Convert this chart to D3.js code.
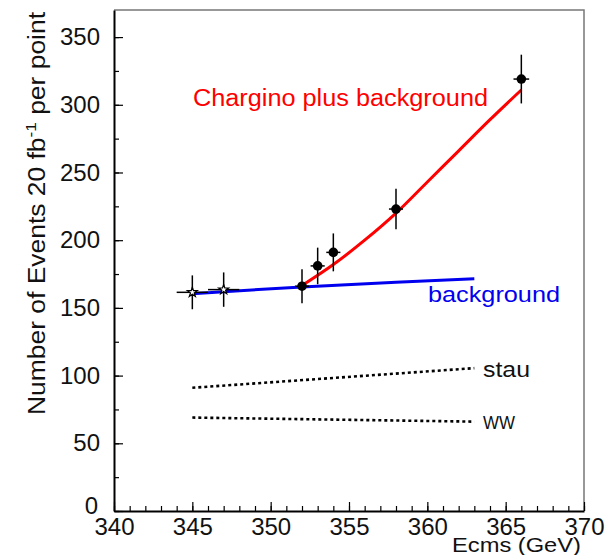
<!DOCTYPE html>
<html>
<head>
<meta charset="utf-8">
<script src="https://cdn.jsdelivr.net/npm/d3@7"></script>
<style>
  html, body { margin: 0; padding: 0; background: #fff; }
  svg { display: block; font-family: "Liberation Sans", Arial, sans-serif; }
</style>
</head>
<body>
<svg id="chart" width="608" height="555"></svg>
<script>
// Measured points: events per 20 fb^-1 at each energy point
const ecmsStar = [345, 347];
const eventsStar = [161.5, 163.5];
const errStar = [12.5, 12.7];
const xerrStar = [1.0, 1.0];

const ecmsDot = [352, 353, 354, 358, 366];
const eventsDot = [166, 181, 191, 223, 319];
const errDot = [12.5, 13.5, 14, 15, 18];
const xerrDot = [0.45, 0.45, 0.45, 0.45, 0.5];

// Expectation curves
const chargX = [352, 354, 356, 358, 360, 362, 364, 366];
const chargY = [166.5, 182, 200, 220, 243, 266, 289, 311];

const bgX = [345, 347, 352, 358, 363];
const bgY = [160.5, 162, 165.5, 169, 171.5];

const stauX = [345, 363];
const stauY = [91, 105.5];

const wwX = [345, 363];
const wwY = [69, 66];

const xTicks = [340, 345, 350, 355, 360, 365, 370];
const yTicks = [0, 50, 100, 150, 200, 250, 300, 350];

const svg = d3.select("#chart");
const mLeft = 114, mRight = 584, mTop = 10, mBottom = 511;

const x = d3.scaleLinear().domain([340, 370]).range([mLeft, mRight]);
const y = d3.scaleLinear().domain([0, 370]).range([mBottom, mTop]);

// frame (top and right)
svg.append("path")
  .attr("d", `M${mLeft},${mTop}H${mRight}V${mBottom}`)
  .attr("fill", "none").attr("stroke", "#777").attr("stroke-width", 1.5);

// minor ticks
svg.append("g").attr("transform", `translate(0,${mBottom})`)
  .call(d3.axisBottom(x).tickValues(d3.range(340, 371, 1)).tickSize(-5).tickSizeOuter(0).tickFormat(""))
  .call(g => g.select(".domain").remove())
  .call(g => g.selectAll("line").attr("stroke", "#000").attr("stroke-width", 1.2));
svg.append("g").attr("transform", `translate(${mLeft},0)`)
  .call(d3.axisLeft(y).tickValues(d3.range(0, 371, 25)).tickSize(-5).tickSizeOuter(0).tickFormat(""))
  .call(g => g.select(".domain").remove())
  .call(g => g.selectAll("line").attr("stroke", "#000").attr("stroke-width", 1.2));

// major axes
const xAxis = svg.append("g").attr("transform", `translate(0,${mBottom})`)
  .call(d3.axisBottom(x).tickValues(xTicks).tickSize(-9).tickSizeOuter(0).tickPadding(7).tickFormat(d3.format("d")));
const yAxis = svg.append("g").attr("transform", `translate(${mLeft},0)`)
  .call(d3.axisLeft(y).tickValues(yTicks).tickSize(-9).tickSizeOuter(0).tickPadding(14).tickFormat(d3.format("d")));
[xAxis, yAxis].forEach(g => {
  g.select(".domain").attr("stroke", "#000").attr("stroke-width", 2);
  g.selectAll("line").attr("stroke", "#000").attr("stroke-width", 1.2);
  g.selectAll("text").attr("font-size", 24).attr("fill", "#111")
    .attr("font-family", "Liberation Sans, Arial, sans-serif");
});
// the zero label sits slightly up-left of the corner
yAxis.selectAll(".tick").filter(d => d === 0).select("text").attr("dy", "0.1em").attr("x", -16);

// axis titles
svg.append("text")
  .attr("x", 581).attr("y", 552).attr("text-anchor", "end")
  .attr("font-size", 20).attr("fill", "#111")
  .attr("textLength", 129).attr("lengthAdjust", "spacingAndGlyphs")
  .text("Ecms (GeV)");

const yTitle = svg.append("text")
  .attr("transform", "translate(45,415) rotate(-90)")
  .attr("font-size", 23).attr("fill", "#111");
yTitle.append("tspan").text("Number of Events  20 fb");
yTitle.append("tspan").attr("dy", -9).attr("font-size", 15).text("-1");
yTitle.append("tspan").attr("dy", 9).text(" per point");
yTitle.attr("textLength", 403).attr("lengthAdjust", "spacingAndGlyphs");

// curves
const line = d3.line().x(d => x(d[0])).y(d => y(d[1]));
const smooth = d3.line().x(d => x(d[0])).y(d => y(d[1])).curve(d3.curveMonotoneX);

svg.append("path").datum(d3.zip(stauX, stauY)).attr("d", line)
  .attr("fill", "none").attr("stroke", "#000").attr("stroke-width", 2.6).attr("stroke-dasharray", "3,3");
svg.append("path").datum(d3.zip(wwX, wwY)).attr("d", line)
  .attr("fill", "none").attr("stroke", "#000").attr("stroke-width", 2.6).attr("stroke-dasharray", "3,3");

svg.append("path").datum(d3.zip(bgX, bgY)).attr("d", smooth)
  .attr("fill", "none").attr("stroke", "#0000ee").attr("stroke-width", 3);
svg.append("path").datum(d3.zip(chargX, chargY)).attr("d", smooth)
  .attr("fill", "none").attr("stroke", "#ff0000").attr("stroke-width", 3);

// error bars
function errBars(xs, ys, es, xes) {
  const g = svg.append("g").attr("stroke", "#000").attr("stroke-width", 1.5);
  xs.forEach((v, i) => {
    g.append("line").attr("x1", x(v)).attr("x2", x(v))
      .attr("y1", y(ys[i] - es[i])).attr("y2", y(ys[i] + es[i]));
    g.append("line").attr("x1", x(v - xes[i])).attr("x2", x(v + xes[i]))
      .attr("y1", y(ys[i])).attr("y2", y(ys[i]));
  });
}
errBars(ecmsStar, eventsStar, errStar, xerrStar);
errBars(ecmsDot, eventsDot, errDot, xerrDot);

// markers
svg.append("g").selectAll("path").data(d3.zip(ecmsStar, eventsStar)).join("path")
  .attr("d", d3.symbol(d3.symbolStar, 30))
  .attr("transform", d => `translate(${x(d[0])},${y(d[1])})`)
  .attr("fill", "#fff").attr("stroke", "#000").attr("stroke-width", 1.2);
svg.append("g").selectAll("circle").data(d3.zip(ecmsDot, eventsDot)).join("circle")
  .attr("cx", d => x(d[0])).attr("cy", d => y(d[1])).attr("r", 4.8)
  .attr("fill", "#000");

// curve labels
svg.append("text").attr("x", 193).attr("y", 106)
  .attr("font-size", 23).attr("fill", "#ff0000")
  .attr("textLength", 295).attr("lengthAdjust", "spacingAndGlyphs")
  .text("Chargino plus background");
svg.append("text").attr("x", 428).attr("y", 302)
  .attr("font-size", 22).attr("fill", "#0000ee")
  .attr("textLength", 132).attr("lengthAdjust", "spacingAndGlyphs")
  .text("background");
svg.append("text").attr("x", 483).attr("y", 377)
  .attr("font-size", 22).attr("fill", "#111")
  .attr("textLength", 47).attr("lengthAdjust", "spacingAndGlyphs")
  .text("stau");
svg.append("text").attr("x", 483).attr("y", 429)
  .attr("font-size", 19).attr("fill", "#111")
  .attr("textLength", 32).attr("lengthAdjust", "spacingAndGlyphs")
  .text("WW");
</script>
</body>
</html>
